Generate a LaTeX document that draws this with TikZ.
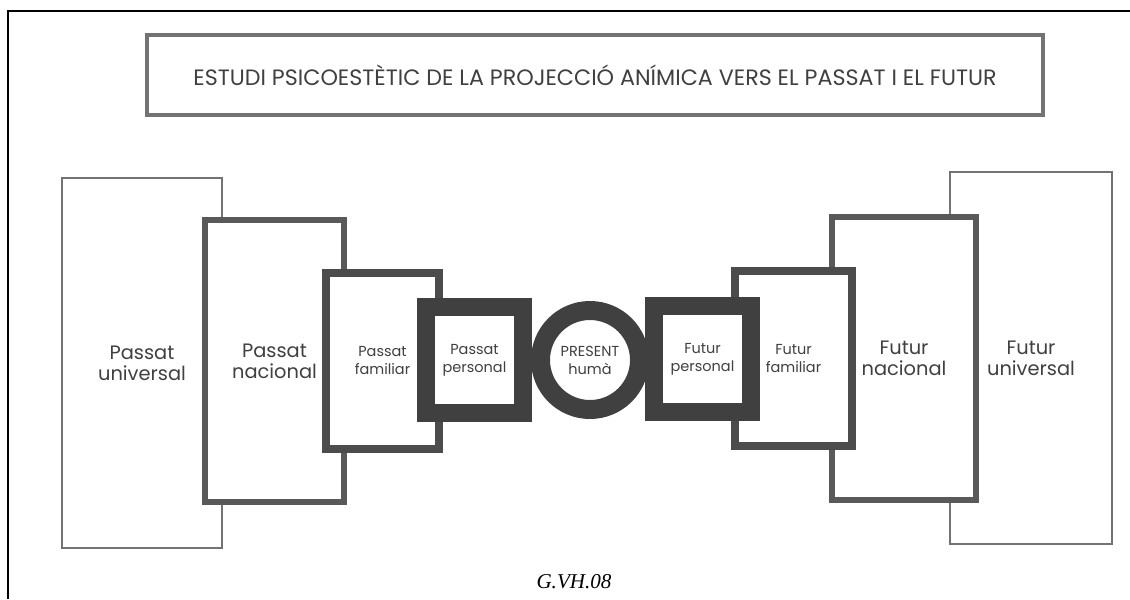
\documentclass[tikz,border=0pt]{standalone}
\usepackage{fontspec}
\setmainfont{Poppins}
\newfontfamily\sigfont{Liberation Serif}
\newcommand{\pxl}{0.025cm}

\begin{document}
\begin{tikzpicture}[x=0.025cm, y=-0.025cm,
  caixa/.style={draw, fill=white, inner sep=0pt, align=center, text=black!75},
  gran/.style={font=\fontsize{13.8}{15}\selectfont},
  petit/.style={font=\fontsize{10.3}{12.8}\selectfont}]
\useasboundingbox (0,0) rectangle (1130,599);
% marc
\draw[line width=1pt] (8,599) -- (8,11) -- (1130,11);
% titol
\node[caixa, draw=black!55, line width=3.5pt, minimum width=896*\pxl, minimum height=80*\pxl,
  font=\fontsize{15.8}{18}\selectfont] (titol) at (595,75)
  {ESTUDI PSICOESTÈTIC DE LA PROJECCIÓ ANÍMICA VERS EL PASSAT I EL FUTUR};
% passat
\node[caixa, gran, draw=black!55, line width=1.8pt, minimum width=160*\pxl, minimum height=370*\pxl] (pu) at (142,363) {Passat\\universal};
\node[caixa, gran, draw=black!65, line width=3.6pt, minimum width=139*\pxl, minimum height=282*\pxl] (pn) at (274.5,361) {Passat\\nacional};
\node[caixa, petit, draw=black!70, line width=5.7pt, minimum width=113*\pxl, minimum height=176*\pxl] (pf) at (382.5,361) {Passat\\familiar};
\node[caixa, petit, draw=black!75, line width=12.8pt, minimum width=97*\pxl, minimum height=106*\pxl] (pp) at (474.5,360) {Passat\\personal};
% futur
\node[caixa, gran, draw=black!55, line width=1.8pt, minimum width=162*\pxl, minimum height=372*\pxl] (fu) at (1031,358) {Futur\\universal};
\node[caixa, gran, draw=black!65, line width=3.6pt, minimum width=144*\pxl, minimum height=283*\pxl] (fn) at (904,358.5) {Futur\\nacional};
\node[caixa, petit, draw=black!70, line width=5.7pt, minimum width=117*\pxl, minimum height=175*\pxl] (ff) at (793.5,358.5) {Futur\\familiar};
\node[caixa, petit, draw=black!75, line width=12.8pt, minimum width=97*\pxl, minimum height=106*\pxl] (fp) at (702.5,359) {Futur\\personal};
% present
\node[caixa, petit, circle, draw=black!75, line width=13.5pt, minimum size=99*\pxl] (pr) at (590,360) {PRESENT\\humà};
\node[font=\sigfont\itshape\fontsize{15}{18}\selectfont] (sig) at (574,582) {G.VH.08};
\end{tikzpicture}
\end{document}
